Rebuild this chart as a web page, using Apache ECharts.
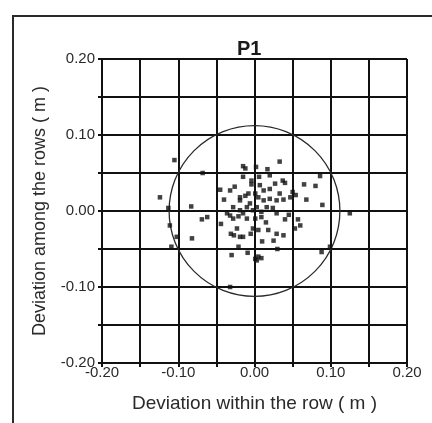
<!DOCTYPE html>
<html>
<head>
<meta charset="utf-8">
<script src="https://cdn.jsdelivr.net/npm/echarts@6/dist/echarts.min.js"></script>
<style>
  html, body { margin: 0; padding: 0; background: #fff; }
  #chart { width: 432px; height: 423px; }
</style>
</head>
<body>
<div id="chart"></div>
<script>
  // deviation points [within the row, among the rows] in m
  var points = [
    [-0.105, 0.067], [-0.068, 0.050], [-0.124, 0.018], [-0.083, 0.006], [-0.113, 0.004],
    [-0.111, -0.019], [-0.102, -0.034], [-0.082, -0.036], [-0.109, -0.047], [-0.069, -0.011],
    [-0.062, -0.008], [-0.045, 0.028], [-0.044, -0.017], [-0.032, 0.027], [-0.026, 0.032],
    [-0.015, 0.059], [-0.012, 0.056], [-0.015, 0.045], [0.002, 0.058], [0.017, 0.055],
    [0.020, 0.047], [0.033, 0.065], [0.037, 0.040], [0.040, 0.037], [0.050, 0.025],
    [0.054, 0.021], [0.068, 0.015], [0.080, 0.033], [0.086, 0.046], [0.089, 0.008],
    [0.099, -0.047], [0.088, -0.054], [0.125, -0.003], [-0.032, -0.006], [-0.021, -0.007],
    [-0.031, -0.030], [-0.027, -0.032], [-0.015, -0.034], [-0.030, -0.058], [-0.009, -0.055],
    [0.001, -0.063], [0.009, -0.062], [0.005, -0.060], [-0.021, -0.047], [-0.002, -0.023],
    [0.005, -0.025], [0.018, -0.025], [0.029, -0.030], [0.038, -0.032], [0.025, -0.039],
    [0.040, -0.011], [0.057, -0.011], [0.029, -0.003], [0.060, -0.019], [0.053, -0.023],
    [-0.002, 0.001], [0.003, 0.005], [0.009, -0.001], [-0.006, 0.010], [-0.010, 0.005],
    [0.012, 0.014], [0.005, 0.018], [0.016, 0.005], [-0.010, -0.010], [0.001, -0.010],
    [0.009, -0.008], [-0.015, -0.003], [-0.019, 0.014], [0.020, 0.016], [0.029, 0.014],
    [0.038, 0.015], [0.047, 0.018], [0.033, 0.023], [0.027, 0.036], [0.007, 0.034],
    [-0.004, 0.035], [0.012, 0.027], [-0.019, 0.001], [-0.028, 0.005], [-0.036, -0.003],
    [0.003, -0.065], [-0.032, -0.100], [-0.019, 0.018], [0.001, 0.023], [-0.008, 0.023],
    [-0.023, -0.023], [-0.028, -0.010], [-0.019, -0.034], [-0.004, 0.040], [0.020, 0.029],
    [0.015, -0.015], [0.024, 0.004], [-0.005, -0.030], [0.010, -0.040], [-0.040, 0.015],
    [0.045, -0.005], [-0.012, 0.020], [0.006, 0.045], [0.030, -0.050], [0.065, 0.035]
  ];
  // circle: centre x, centre y, radius (m)
  var circle = [[0, 0, 0.112]];
  var axisMin = -0.2;
  var axisMax = 0.2;
  var tickStep = 0.05;

  function tickLabel(v) {
    var n = Math.round(v * 100);
    return n % 10 === 0 ? (n / 100).toFixed(2) : '';
  }

  var chart = echarts.init(document.getElementById('chart'));
  var lineCol = '#111';
  var txtCol = '#2a2a2a';
  var font = 'Liberation Sans';

  chart.setOption({
    animation: false,
    title: {
      text: 'P1',
      left: 232,
      top: 34,
      textStyle: { fontSize: 20, fontWeight: 'bold', color: '#1a1a1a', fontFamily: font }
    },
    grid: { left: 102, right: 25, top: 59, bottom: 60 },
    xAxis: {
      type: 'value',
      min: axisMin, max: axisMax, interval: tickStep,
      name: 'Deviation within the row ( m )',
      nameLocation: 'middle',
      nameGap: 31,
      nameTextStyle: { fontSize: 19, color: txtCol, fontFamily: font },
      axisLine: { show: true, onZero: false, lineStyle: { color: lineCol, width: 2 } },
      axisTick: { show: true, length: 4, lineStyle: { color: lineCol, width: 2 } },
      axisLabel: { formatter: tickLabel, fontSize: 15, color: txtCol, fontFamily: font, margin: 2 },
      splitLine: { show: true, lineStyle: { color: lineCol, width: 2 } }
    },
    yAxis: {
      type: 'value',
      min: axisMin, max: axisMax, interval: tickStep,
      name: 'Deviation among the rows ( m )',
      nameLocation: 'middle',
      nameGap: 53,
      nameTextStyle: { fontSize: 18, color: txtCol, fontFamily: font },
      axisLine: { show: true, onZero: false, lineStyle: { color: lineCol, width: 2 } },
      axisTick: { show: true, length: 4, lineStyle: { color: lineCol, width: 2 } },
      axisLabel: { formatter: tickLabel, fontSize: 15, color: txtCol, fontFamily: font, margin: 7 },
      splitLine: { show: true, lineStyle: { color: lineCol, width: 2 } }
    },
    graphic: [{
      type: 'rect',
      shape: { x: 13, y: 16, width: 440, height: 440 },
      style: { fill: 'none', stroke: '#2a2a2a', lineWidth: 2 },
      silent: true
    }],
    series: [
      {
        type: 'custom',
        data: circle,
        renderItem: function (params, api) {
          var c = api.coord([api.value(0), api.value(1)]);
          var r = api.size([api.value(2), 0])[0];
          return {
            type: 'circle',
            shape: { cx: c[0], cy: c[1], r: r },
            style: { fill: 'none', stroke: '#2a2a2a', lineWidth: 1.3 }
          };
        },
        z: 3
      },
      {
        type: 'scatter',
        data: points,
        symbol: 'rect',
        symbolSize: 4.5,
        itemStyle: { color: '#111' },
        z: 4
      }
    ]
  });
</script>
</body>
</html>
